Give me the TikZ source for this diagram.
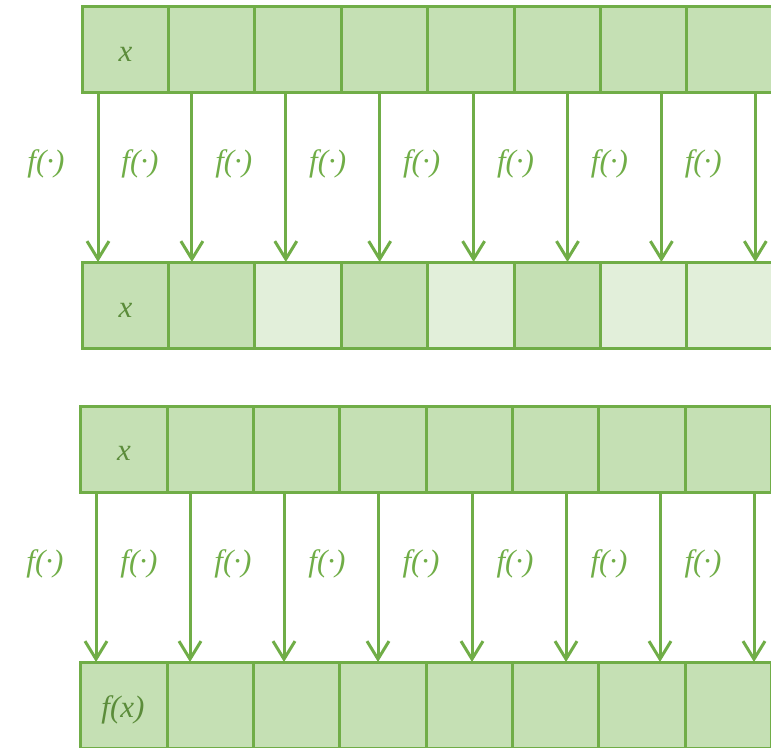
\documentclass[tikz,border=0pt]{standalone}
\usepackage{fontspec}
\setmainfont{Liberation Serif}
\usetikzlibrary{arrows.meta}
\definecolor{gline}{HTML}{70AD47}
\definecolor{gfill}{HTML}{C5E0B4}
\definecolor{glight}{HTML}{E2EFDA}
\definecolor{gtext}{HTML}{5B8C3A}
\begin{document}
\begin{tikzpicture}[x=1pt,y=-1pt,
  cell/.style={draw=gline,line width=3pt,minimum width=86.4pt,minimum height=86pt,inner sep=0pt,fill=gfill},
  lightcell/.style={cell,fill=glight},
  ctext/.style={font=\fontsize{31}{35}\selectfont\itshape,text=gtext,inner sep=0pt,anchor=base},
  flabel/.style={font=\fontsize{31}{35}\selectfont\itshape,text=gline,inner sep=0pt,anchor=base},
  arr/.style={draw=gline,line width=3pt,-{Straight Barb[length=18pt,width=22pt,line width=3pt]}}]
\useasboundingbox (0,0) rectangle (771,747);
\clip (0,0) rectangle (771,747);
% block 1
\foreach \i in {1,...,9} {
  \node[cell] (u\i) at ({82+86.4*(\i-1)+43.2},49) {};
}
\node[ctext] (ux) at (125.5,61) {x};
\foreach \i/\s in {1/cell,2/cell,3/lightcell,4/cell,5/lightcell,6/cell,7/lightcell,8/lightcell,9/lightcell} {
  \node[\s] (v\i) at ({82+86.4*(\i-1)+43.2},305) {};
}
\node[ctext] (vx) at (125.5,317) {x};
\foreach \i in {1,...,8} {
  \coordinate (a\i) at ({98+93.9*(\i-1)},92);
  \coordinate (b\i) at ({98+93.9*(\i-1)},262);
  \draw[arr] (a\i) -- (b\i);
  \node[flabel] (l\i) at ({46+93.9*(\i-1)},171) {f(·)};
}
% block 2
\foreach \i in {1,...,9} {
  \node[cell] (p\i) at ({81+86.3*(\i-1)+43.15},449) {};
  \node[cell] (q\i) at ({81+86.3*(\i-1)+43.15},705) {};
}
\node[ctext] (px) at (124,460) {x};
\node[ctext] (qx) at (123,717) {f(x)};
\foreach \i in {1,...,8} {
  \coordinate (c\i) at ({96+94*(\i-1)},492);
  \coordinate (d\i) at ({96+94*(\i-1)},662);
  \draw[arr] (c\i) -- (d\i);
  \node[flabel] (m\i) at ({45+94*(\i-1)},571) {f(·)};
}
\end{tikzpicture}
\end{document}
